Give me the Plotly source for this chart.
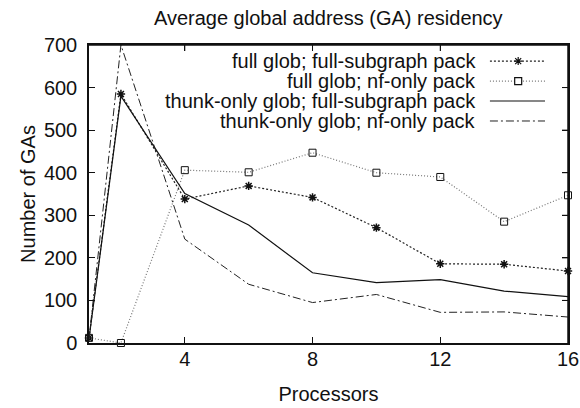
import plotly.graph_objects as go

processors = [1, 2, 4, 6, 8, 10, 12, 14, 16]
full_full = [12, 585, 338, 369, 342, 271, 186, 185, 169]
full_nf = [12, 0, 406, 401, 447, 400, 390, 285, 347]
thunk_full = [10, 580, 351, 277, 165, 142, 149, 122, 109]
thunk_nf = [10, 700, 244, 138, 95, 114, 72, 73, 61]

x_ticks = [4, 8, 12, 16]
y_ticks = [0, 100, 200, 300, 400, 500, 600, 700]
y_range = [0, 700]
x_range = [1, 16]

names = ["full glob; full-subgraph pack", "full glob; nf-only pack",
         "thunk-only glob; full-subgraph pack", "thunk-only glob; nf-only pack"]
series = [full_full, full_nf, thunk_full, thunk_nf]
lines = [dict(color="#222", width=1.2, dash="2px,2px"),
         dict(color="#777", width=1.2, dash="1px,2px"),
         dict(color="#111", width=1.2),
         dict(color="#222", width=1, dash="8px,3px,2px,3px")]
markers = [dict(symbol="asterisk-open", size=7, color="#111", line=dict(width=1.5, color="#111")),
           dict(symbol="square-open", size=7, color="#111", line=dict(width=1, color="#111")),
           None, None]

fig = go.Figure()
for n, s, ln, mk in zip(names, series, lines, markers):
    kw = dict(mode="lines+markers", marker=mk) if mk else dict(mode="lines")
    fig.add_trace(go.Scatter(x=processors, y=s, name=n, showlegend=False, cliponaxis=False,
                             line=ln, **kw))

# custom legend: text right-aligned, sample on the right
leg_y = [0.946, 0.879, 0.812, 0.745]
marker_paths = ["M-4,0H4M0,-4V4M-3,-3L3,3M-3,3L3,-3",
                "M-3.5,-3.5H3.5V3.5H-3.5Z", None, None]
for i, n in enumerate(names):
    y = leg_y[i]
    fig.add_annotation(x=0.812, y=y, xref="paper", yref="paper", text=n, showarrow=False,
                       xanchor="right", yanchor="middle", font=dict(size=20, color="#111"))
    fig.add_shape(type="line", xref="paper", yref="paper", x0=0.837, x1=0.952, y0=y, y1=y,
                  line=lines[i])
    if marker_paths[i]:
        fig.add_shape(type="path", xref="paper", yref="paper", xsizemode="pixel",
                      ysizemode="pixel", xanchor=0.896, yanchor=y, path=marker_paths[i],
                      fillcolor="white", line=dict(color="#111", width=1.2))

# explicit top and right frame edges
fig.add_shape(type="line", xref="paper", yref="paper", x0=0, x1=1, y0=1, y1=1,
              line=dict(color="#111", width=1.5), layer="above")
fig.add_shape(type="line", xref="paper", yref="paper", x0=1, x1=1, y0=0, y1=1,
              line=dict(color="#111", width=1.5), layer="above")
# mirrored ticks on top and right, placed through the axis scales
for xv in x_ticks[:-1]:
    fig.add_shape(type="line", xref="x", yref="paper", ysizemode="pixel", yanchor=1,
                  x0=xv, x1=xv, y0=0, y1=-6, line=dict(color="#111", width=1), layer="above")
for yv in y_ticks[1:-1]:
    fig.add_shape(type="line", xref="paper", yref="y", xsizemode="pixel", xanchor=1,
                  x0=0, x1=-6, y0=yv, y1=yv, line=dict(color="#111", width=1), layer="above")

common = dict(ticks="inside", ticklen=6, tickcolor="#111", showgrid=False, zeroline=False,
              automargin=False, showline=True, linecolor="#111", linewidth=1.5,
              mirror="ticks", tickfont=dict(size=20))
fig.update_layout(
    width=580, height=408,
    margin=dict(l=89, r=12, t=45, b=65),
    paper_bgcolor="white", plot_bgcolor="white",
    font=dict(family="Liberation Sans, Arial, sans-serif", size=20, color="#111"),
    title=dict(text="Average global address (GA) residency", x=0.566, xanchor="center",
               y=0.956, yanchor="middle", font=dict(size=20)),
    xaxis=dict(range=x_range, tickvals=x_ticks, ticklabelstandoff=-3,
               title=dict(text="Processors", font=dict(size=20), standoff=18), **common),
    yaxis=dict(range=y_range, tickvals=y_ticks, ticklabelstandoff=6,
               title=dict(text="Number of GAs", font=dict(size=20), standoff=3), **common),
)
fig.write_html("out.html", config={"displayModeBar": False},
               post_script="document.body.style.margin='0';document.body.style.overflow='hidden';")
